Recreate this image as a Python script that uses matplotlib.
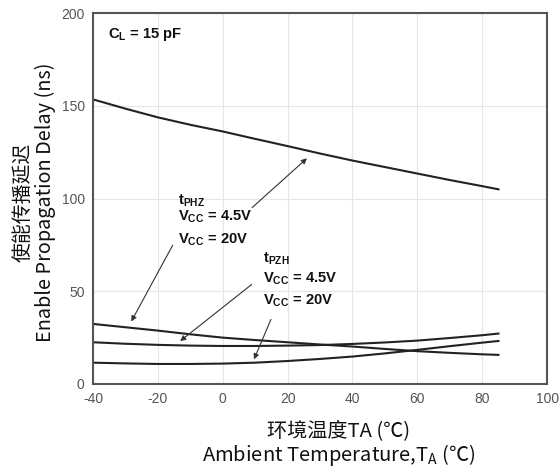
import matplotlib.pyplot as plt

plt.rcParams['axes.unicode_minus'] = False

# temperature points (degC)
temps = [-40, -30, -20, -10, 0, 10, 20, 30, 40, 50, 60, 70, 80, 85]

# enable propagation delay (ns), CL = 15 pF
tphz_45v = [153.5, 148.5, 143.8, 139.8, 136.2, 132.2, 128.3, 124.3, 120.5, 117.0, 113.5, 110.0, 106.7, 105.0]
tphz_20v = [32.4, 30.6, 28.8, 26.8, 25.0, 23.7, 22.5, 21.3, 20.2, 18.9, 17.7, 16.8, 16.0, 15.7]
tpzh_45v = [22.5, 21.7, 21.1, 20.7, 20.5, 20.5, 20.7, 21.0, 21.6, 22.4, 23.4, 24.8, 26.3, 27.2]
tpzh_20v = [11.5, 11.1, 10.8, 10.8, 11.0, 11.5, 12.4, 13.5, 14.8, 16.5, 18.4, 20.4, 22.3, 23.2]

xticks = [-40, -20, 0, 20, 40, 60, 80, 100]
yticks = [0, 50, 100, 150, 200]

label_font = ['Noto Sans CJK SC', 'DejaVu Sans']
note_font = ['Liberation Sans', 'DejaVu Sans']

fig = plt.figure(figsize=(5.6, 4.7), dpi=100)
ax = fig.add_axes([0.166, 0.183, 0.811, 0.789])

for ys in (tphz_45v, tphz_20v, tpzh_45v, tpzh_20v):
    ax.plot(temps, ys, color='#222222', linewidth=1.5)

ax.set_xlim(-40, 100)
ax.set_ylim(0, 200)
ax.set_xticks(xticks)
ax.set_yticks(yticks)
ax.grid(True, color='#e6e6e6', linewidth=0.8)
ax.set_axisbelow(True)
ax.tick_params(length=0, pad=6, labelsize=10, labelcolor='#555555')
for lbl in ax.get_xticklabels() + ax.get_yticklabels():
    lbl.set_family(note_font)
for sp in ax.spines.values():
    sp.set_color('#555555')
    sp.set_linewidth(1.5)

ax.set_ylabel('使能传播延迟\nEnable Propagation Delay (ns)', family=label_font,
              fontsize=14.3, color='#111111', linespacing=1.05)
ax.set_xlabel('环境温度TA (℃)\nAmbient Temperature,T$_\\mathregular{A}$ (℃)', family=label_font,
              fontsize=14.5, color='#111111', linespacing=1.05)
ax.yaxis.set_label_coords(-0.082, 0.49)
ax.xaxis.set_label_coords(0.54, -0.098)
ax.xaxis.label.set_va('top')

txt = dict(family=note_font, fontsize=10.6, fontweight='bold', color='#111111')
ax.text(-35.4, 188.6, 'C$_\\mathregular{L}$ = 15 pF', va='center', ha='left', **txt)

ax.text(-13.8, 99, 't$_\\mathregular{PHZ}$', va='center', ha='left', **txt)
ax.text(-13.8, 90, 'V$_\\mathregular{CC}$ = 4.5V', va='center', ha='left', **txt)
ax.text(-13.8, 78, 'V$_\\mathregular{CC}$ = 20V', va='center', ha='left', **txt)

ax.text(12.4, 67.5, 't$_\\mathregular{PZH}$', va='center', ha='left', **txt)
ax.text(12.4, 57, 'V$_\\mathregular{CC}$ = 4.5V', va='center', ha='left', **txt)
ax.text(12.4, 45, 'V$_\\mathregular{CC}$ = 20V', va='center', ha='left', **txt)

arrow = dict(arrowstyle='-|>', color='#333333', linewidth=0.8, mutation_scale=8)
ax.annotate('', xy=(26.6, 122.7), xytext=(8.4, 94.1), arrowprops=arrow)
ax.annotate('', xy=(-28.6, 32.4), xytext=(-15.0, 76.2), arrowprops=arrow)
ax.annotate('', xy=(-13.8, 22.2), xytext=(9.6, 54.6), arrowprops=arrow)
ax.annotate('', xy=(9.3, 11.9), xytext=(15.2, 36.2), arrowprops=arrow)

fig.savefig('out.png', dpi=100)
